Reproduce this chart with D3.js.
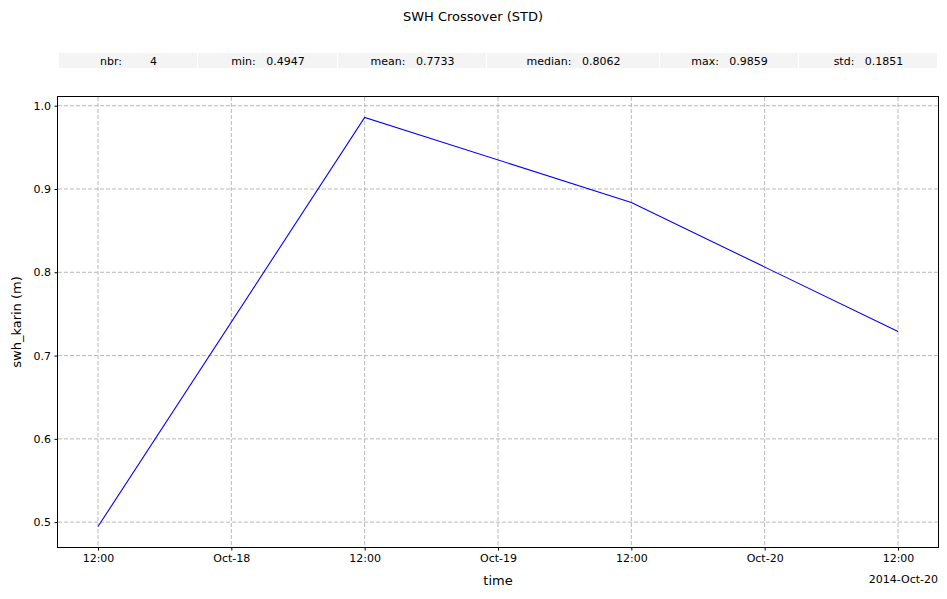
<!DOCTYPE html>
<html><head><meta charset="utf-8">
<script src="https://cdn.jsdelivr.net/npm/d3@7"></script>
<style>body{margin:0;background:#fff}svg{font-family:"DejaVu Sans",sans-serif}</style>
</head><body><svg id="c" width="947" height="599"></svg>
<script>
const times = ["2014-10-17T12:00:00Z","2014-10-18T12:00:00Z","2014-10-19T12:00:00Z","2014-10-20T12:00:00Z"];
const values = [0.4947, 0.9859, 0.8838, 0.7288];
const statLabels = ["nbr:","min:","mean:","median:","max:","std:"];
const statValues = ["4","0.4947","0.7733","0.8062","0.9859","0.1851"];
const statGaps = ["        ","   ","   ","   ","   ","   "];
const yTicks = [0.5,0.6,0.7,0.8,0.9,1.0];

const svg = d3.select("#c");
const L=58,R=938,T=97,B=547;
const dates = times.map(t=>new Date(t));
const span = dates[3]-dates[0];
const x = d3.scaleUtc().domain([new Date(+dates[0]-span*0.05), new Date(+dates[3]+span*0.05)]).range([L,R]);
const vmin=d3.min(values), vmax=d3.max(values), vs=vmax-vmin;
const y = d3.scaleLinear().domain([vmin-vs*0.05, vmax+vs*0.05]).range([B,T]);

svg.append("text").attr("x",473).attr("y",21).attr("text-anchor","middle").attr("font-size",13).text("SWH Crossover (STD)");

// stats table
const cellEdges=[59,198,338,487,660,799,938];
statLabels.forEach((l,i)=>{
  svg.append("rect").attr("x",cellEdges[i]).attr("y",53).attr("width",cellEdges[i+1]-cellEdges[i]-1).attr("height",15).attr("fill","#f4f4f4");
  svg.append("text").attr("x",(cellEdges[i]+cellEdges[i+1])/2).attr("y",64.5).attr("text-anchor","middle")
    .attr("font-size",11).style("white-space","pre").text(l+statGaps[i]+statValues[i]);
});

const xTicks = d3.utcHour.every(12).range(x.domain()[0], x.domain()[1]);
const fmt = d=> d.getUTCHours()===12 ? "12:00" : d3.utcFormat("%b-%d")(d);

const g = svg.append("g");
g.selectAll(".gx").data(xTicks).join("line").attr("x1",d=>x(d)).attr("x2",d=>x(d)).attr("y1",T).attr("y2",B)
 .attr("stroke","#b0b0b0").attr("stroke-width",0.9).attr("stroke-dasharray","4,2");
g.selectAll(".gy").data(yTicks).join("line").attr("x1",L).attr("x2",R).attr("y1",d=>y(d)).attr("y2",d=>y(d))
 .attr("stroke","#b0b0b0").attr("stroke-width",0.9).attr("stroke-dasharray","4,2");

svg.append("path").datum(dates.map((d,i)=>[d,values[i]])).attr("fill","none").attr("stroke","#0000ff").attr("stroke-width",1.1)
 .attr("d", d3.line().x(d=>x(d[0])).y(d=>y(d[1])));

const xa = svg.append("g").attr("transform",`translate(0,${B})`).call(d3.axisBottom(x).tickValues(xTicks).tickFormat(fmt).tickSize(3.5).tickPadding(3.5));
const ya = svg.append("g").attr("transform",`translate(${L},0)`).call(d3.axisLeft(y).tickValues(yTicks).tickFormat(d3.format(".1f")).tickSize(3.5).tickPadding(3.5));
[xa,ya].forEach(a=>{a.select(".domain").remove();a.selectAll("text").attr("font-size",11).attr("fill","#000").attr("font-family","DejaVu Sans");a.selectAll("line").attr("stroke","#000").attr("stroke-width",1);});
svg.append("rect").attr("x",L-0.5).attr("y",T-0.5).attr("width",R-L+1).attr("height",B-T+1).attr("fill","none").attr("stroke","#000").attr("stroke-width",1).attr("shape-rendering","crispEdges");

svg.append("text").attr("x",R).attr("y",583).attr("text-anchor","end").attr("font-size",11).text("2014-Oct-20");
svg.append("text").attr("x",498).attr("y",585).attr("text-anchor","middle").attr("font-size",13).text("time");
svg.append("text").attr("transform",`translate(21,${(T+B)/2}) rotate(-90)`).attr("text-anchor","middle").attr("font-size",13).text("swh_karin (m)");
</script></body></html>
